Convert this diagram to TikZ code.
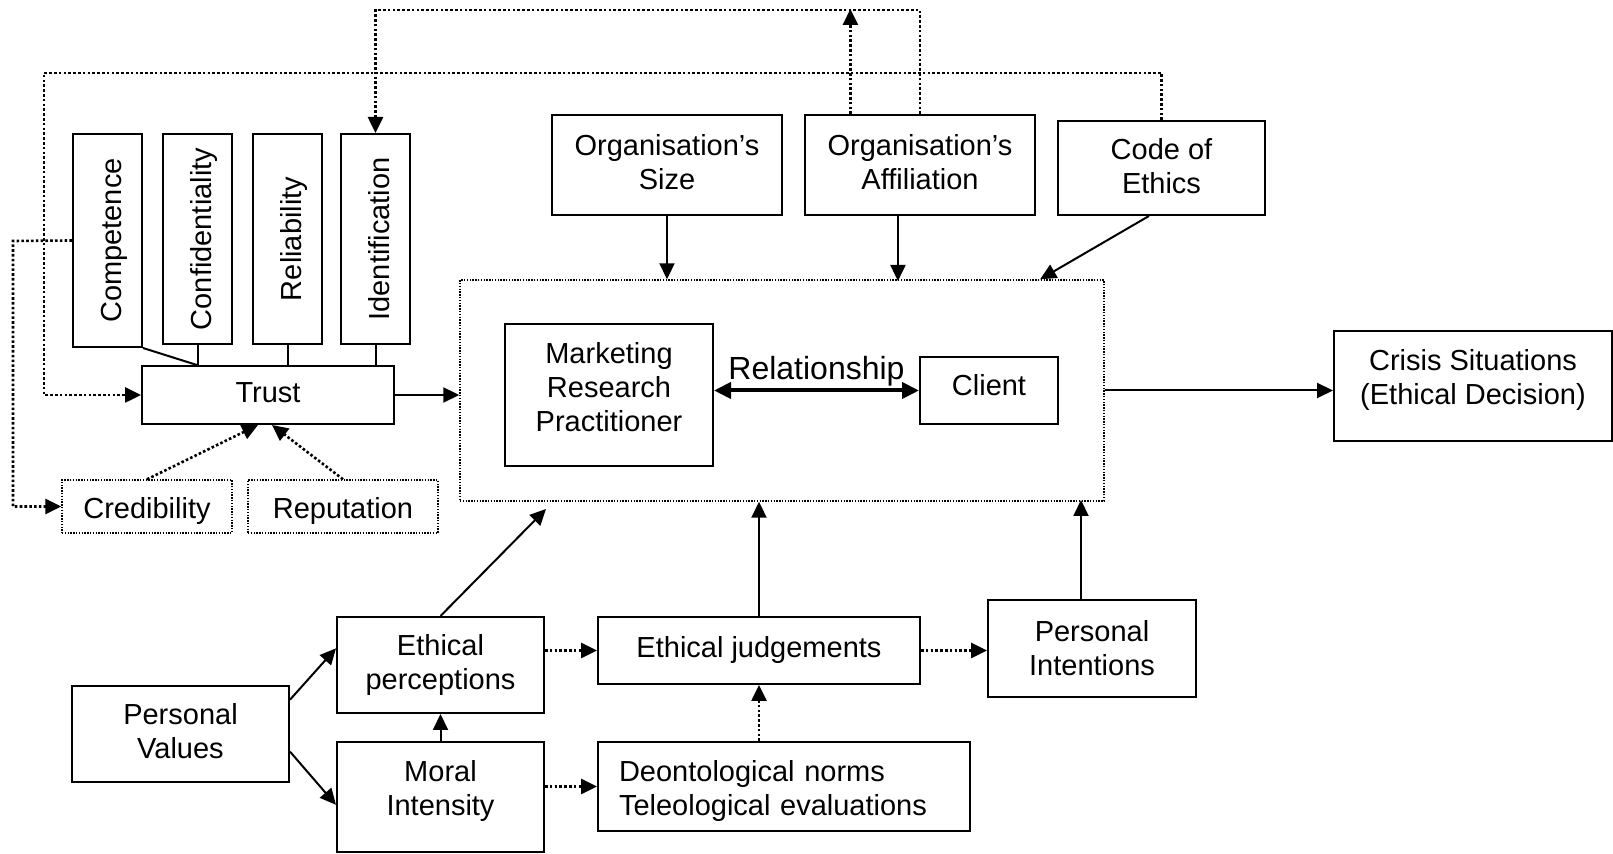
\documentclass[tikz,border=0pt]{standalone}
\usepackage{fontspec}
\setmainfont{Liberation Sans}
\usepackage{graphicx}
\usetikzlibrary{arrows.meta,calc}
% extra depth / height for text lines
\newcommand{\lift}[1]{\rule[-#1]{0pt}{#1}}
\newcommand{\sink}[1]{\rule{0pt}{#1}}
\newcommand{\upright}[1]{\rotatebox{90}{\raisebox{-6.75pt}[0pt][0pt]{#1}}}

\begin{document}
\begin{tikzpicture}[x=0.5pt,y=-0.5pt,
  >={Triangle[length=8pt,width=7.5pt]},
  box/.style={draw,line width=1pt,inner sep=0pt,align=center,font=\fontsize{14.5}{17}\selectfont},
  dotbox/.style={box,line width=0.7pt,dash pattern=on 0.7pt off 0.7pt},
  link/.style={line width=1pt},
  dotlink/.style={line width=1.3pt,dash pattern=on 1.3pt off 1.1pt}]
\useasboundingbox (0,0) rectangle (1613,854);

%Nodes
\node[box,minimum width=34.5pt,minimum height=106.5pt] (nodeCompetence) at (107.5,240.5) {\upright{Competence}};
\node[box,minimum width=34.5pt,minimum height=105pt] (nodeConfidentiality) at (197.5,239) {\upright{Confidentiality}};
\node[box,minimum width=34.5pt,minimum height=105pt] (nodeReliability) at (287.5,239) {\upright{Reliability}};
\node[box,minimum width=34.5pt,minimum height=105pt] (nodeIdentification) at (375.5,239) {\upright{Identification}};

\node[box,minimum width=126pt,minimum height=29pt] (nodeTrust) at (268,395) {Trust\lift{2pt}};

\node[dotbox,minimum width=85pt,minimum height=26.5pt] (nodeCredibility) at (147,506.5) {\sink{14.6pt}Credibility};
\node[dotbox,minimum width=95pt,minimum height=26.5pt] (nodeReputation) at (343,506.5) {\sink{14.6pt}Reputation};

\node[box,minimum width=115pt,minimum height=50pt] (nodeSize) at (667,165) {Organisation’s\\Size\lift{3pt}};
\node[box,minimum width=115pt,minimum height=50pt] (nodeAffiliation) at (920,165) {Organisation’s\\Affiliation\lift{3pt}};
\node[box,minimum width=103.5pt,minimum height=47pt] (nodeCode) at (1161.5,168) {Code of\\Ethics\lift{2pt}};

\node[dotbox,minimum width=322pt,minimum height=110.5pt] (nodeRelation) at (782,390.5) {};
\node[box,minimum width=104pt,minimum height=71pt] (nodePractitioner) at (609,395) {Marketing\\Research\\Practitioner\lift{8pt}};
\node[box,minimum width=69pt,minimum height=33.5pt] (nodeClient) at (989,390.5) {Client\lift{5pt}};

\node[box,minimum width=139pt,minimum height=55pt] (nodeCrisis) at (1473,386) {Crisis Situations\\(Ethical Decision)\lift{8.7pt}};

\node[box,minimum width=103.5pt,minimum height=48pt] (nodePerception) at (440.5,665) {Ethical\\perceptions};
\node[box,minimum width=161pt,minimum height=33.5pt] (nodeJudgement) at (759,650.5) {Ethical judgements};
\node[box,minimum width=104pt,minimum height=48.5pt] (nodeIntention) at (1092,648.5) {Personal\\Intentions};

\node[box,minimum width=108.5pt,minimum height=48pt] (nodeValues) at (180.5,734) {Personal\\Values\lift{3pt}};
\node[box,minimum width=103.5pt,minimum height=55pt] (nodeIntensity) at (440.5,797) {Moral\\Intensity\lift{9.2pt}};
\node[box,minimum width=186pt,minimum height=44.5pt,text width=165pt,align=left] (nodeNorms) at (784,786.5) {\sink{14.6pt}Deontological norms\\Teleological evaluations};

\coordinate (loopTop) at (375,10);
\coordinate (loopMid) at (44,73);
\coordinate (loopLeft) at (13,241);
\coordinate (tipPerc) at (546,509);

%Lines
\draw[link] (nodeCompetence.south east) -- ($(nodeTrust.north west)!0.22!(nodeTrust.north east)$);
\draw[link] (nodeConfidentiality.south) -- (nodeConfidentiality.south |- nodeTrust.north);
\draw[link] (nodeReliability.south) -- (nodeReliability.south |- nodeTrust.north);
\draw[link] (nodeIdentification.south) -- (nodeIdentification.south |- nodeTrust.north);

\draw[link,->] (nodeTrust.east) -- (nodeTrust.east -| nodeRelation.west);
\draw[dotlink,->] (nodeCredibility.north) -- ($(nodeTrust.south)+(-10,0)$);
\draw[dotlink,->] (nodeReputation.north) -- ($(nodeTrust.south)+(4,0)$);

\draw[dotlink,->] (nodeAffiliation.north) -- (nodeAffiliation.north |- loopTop) -| (nodeIdentification.north);
\draw[dotlink,->] ($(nodeAffiliation.north west)!0.2!(nodeAffiliation.north east)$) -- ++(0,-105);
\draw[dotlink,->] (nodeCode.north) -- (nodeCode.north |- loopMid) -- (loopMid) |- (nodeTrust.west);
\draw[dotlink,->] (nodeCompetence.west) -- (loopLeft) |- (nodeCredibility.west);

\draw[link,->] (nodeSize.south) -- (nodeSize.south |- nodeRelation.north);
\draw[link,->] ($(nodeAffiliation.south west)!0.405!(nodeAffiliation.south east)$) -- ++(0,65);
\draw[link,->] ($(nodeCode.south west)!0.44!(nodeCode.south east)$) -- ($(nodeRelation.north east)!0.1!(nodeRelation.north west)$);

\draw[line width=2pt,{Triangle[length=8.5pt,width=8pt]}-{Triangle[length=8.5pt,width=8pt]}] (nodeClient.west -| nodePractitioner.east) -- node[above,inner sep=1pt,font=\fontsize{16}{19}\selectfont] {Relationship} (nodeClient.west);
\draw[link,->] (nodeRelation.east) -- (nodeRelation.east -| nodeCrisis.west);

\draw[link,->] (nodePerception.north) -- (tipPerc);
\draw[link,->] (nodeJudgement.north) -- (nodeJudgement.north |- nodeRelation.south);
\draw[link,->] ($(nodeIntention.north)+(-11,0)$) -- ++(0,-99);

\draw[dotlink,->] (nodeJudgement.west -| nodePerception.east) -- (nodeJudgement.west);
\draw[dotlink,->] (nodeJudgement.east) -- (nodeJudgement.east -| nodeIntention.west);

\draw[link,->] ($(nodeValues.north east)!0.15!(nodeValues.south east)$) -- ($(nodePerception.north west)!0.33!(nodePerception.south west)$);
\draw[link,->] ($(nodeValues.north east)!0.68!(nodeValues.south east)$) -- ($(nodeIntensity.north west)!0.57!(nodeIntensity.south west)$);
\draw[link,->] (nodeIntensity.north) -- (nodePerception.south);

\draw[dotlink,->] (nodeNorms.west -| nodeIntensity.east) -- (nodeNorms.west);
\draw[dotlink,->] (nodeJudgement.south |- nodeNorms.north) -- (nodeJudgement.south);
\end{tikzpicture}
\end{document}
